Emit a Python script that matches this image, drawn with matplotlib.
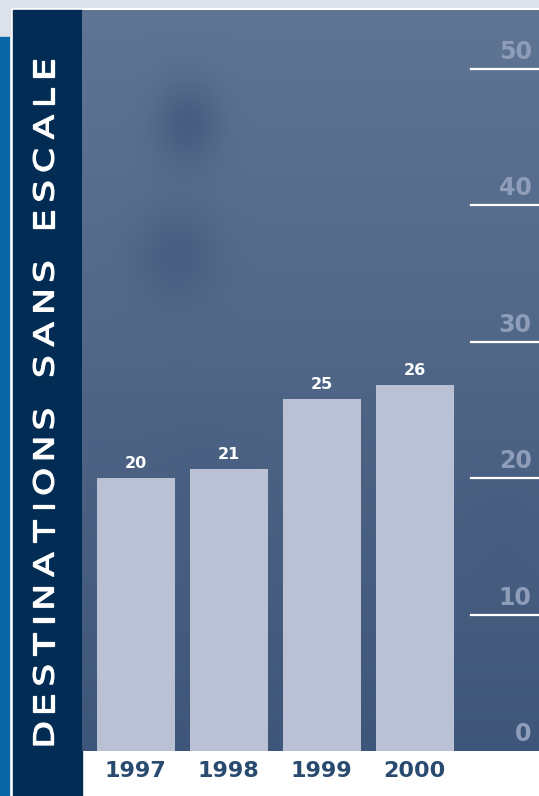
import matplotlib.pyplot as plt
import numpy as np
from matplotlib.textpath import TextPath
from matplotlib.patches import PathPatch
from matplotlib.font_manager import FontProperties
from matplotlib.transforms import Affine2D

# data
years = ['1997', '1998', '1999', '2000']
destinations = [20, 21, 25, 26]
# bar heights as drawn in the picture (slightly off the printed labels)
bar_heights = [20.0, 20.7, 25.8, 26.8]
y_ticks = [0, 10, 20, 30, 40, 50]
title = 'DESTINATIONS SANS ESCALE'

W, H = 539, 796
fig = plt.figure(figsize=(W / 100, H / 100), dpi=100)
fig.patch.set_facecolor('white')


def px_axes(x0, y0, x1, y1):
    # axes from pixel box (top-left origin)
    return fig.add_axes([x0 / W, 1 - y1 / H, (x1 - x0) / W, (y1 - y0) / H])


# decoration behind everything
deco = fig.add_axes([0, 0, 1, 1])
deco.set_xlim(0, W)
deco.set_ylim(H, 0)
deco.axis('off')
deco.add_patch(plt.Rectangle((0, 0), W, 7, color='#dde1ea'))
deco.add_patch(plt.Rectangle((0, 0), 10, 37, color='#dde1ea'))
deco.add_patch(plt.Rectangle((0, 37), 9, H - 37, color='#0a66a6'))
deco.add_patch(plt.Rectangle((13, 9.5), 69, H, color='#022c53'))

# plot area
ax = px_axes(82, 9.5, 539, 751)
top_val = 50 + (68.7 - 9.5) / 13.65
ax.set_ylim(0, top_val)
ax.set_xlim(-0.58, 4.34)

# background gradient with a few darker cloud patches (pixel units)
gy, gx = np.mgrid[0:741, 0:457]
t = (gy / 740.0)[..., None]
c_top = np.array([0x60, 0x75, 0x94]) / 255
c_bot = np.array([0x3e, 0x56, 0x79]) / 255
img = c_top * (1 - t) + c_bot * t
dark = np.array([0x44, 0x59, 0x7d]) / 255
for cx, cy, rx, ry, a in [(105, 115, 32, 42, 0.85), (95, 245, 38, 45, 0.7),
                          (120, 470, 50, 45, 0.3), (420, 520, 40, 60, 0.3)]:
    blob = a * np.exp(-(((gx - cx) / rx) ** 2 + ((gy - cy) / ry) ** 2))
    img = img * (1 - blob[..., None]) + dark * blob[..., None]
ax.imshow(img, extent=[-0.58, 4.34, 0, top_val], aspect='auto', origin='upper', zorder=0)

x = np.arange(len(years))
ax.bar(x, bar_heights, width=0.84, color='#bbc1d5', zorder=2)
for xi, h, v in zip(x, bar_heights, destinations):
    ax.text(xi, h + 0.5, str(v), ha='center', va='bottom', color='white',
            fontsize=11.5, fontweight='bold', zorder=3)

for tv in y_ticks:
    if tv > 0:
        ax.axhline(tv, xmin=0.851, xmax=1.0, color='white', lw=1.6, zorder=3)
    ax.text(0.984, tv + 0.35, str(tv), transform=ax.get_yaxis_transform(),
            ha='right', va='bottom', color='#8e9db9', fontsize=17, fontweight='bold', zorder=3)

ax.set_xticks(x)
ax.set_xticklabels(years, fontsize=16, fontweight='bold', color='#2a4b70')
ax.tick_params(axis='x', length=0, pad=7)
ax.set_yticks([])
for sp in ax.spines.values():
    sp.set_visible(False)

# vertical title: widened letters drawn as paths, laid out with wide tracking
fp = FontProperties(family='DejaVu Sans', weight='normal')
sx = 1.3
space_w = 12.0
y_start, y_end = 745.0, 60.0
paths = []
for ch in title:
    if ch == ' ':
        paths.append(None)
        continue
    paths.append(TextPath((0, 0), ch, size=27.5, prop=fp))
widths = [space_w if p is None else p.get_extents().width * sx for p in paths]
track = ((y_start - y_end) - sum(widths)) / (len(widths) - 1)
pos = y_start
for p, w in zip(paths, widths):
    if p is not None:
        ext = p.get_extents()
        cx = (ext.x0 + ext.x1) / 2
        cy = (ext.y0 + ext.y1) / 2
        tr = (Affine2D().translate(-cx, -cy).scale(sx, 1.0).rotate_deg(90)
              .scale(1, -1).translate(43.5, pos - w / 2))
        deco.add_patch(PathPatch(tr.transform_path(p), facecolor='white',
                                 edgecolor='white', lw=0.9))
    pos -= w + track

fig.savefig('out.png', dpi=100)
